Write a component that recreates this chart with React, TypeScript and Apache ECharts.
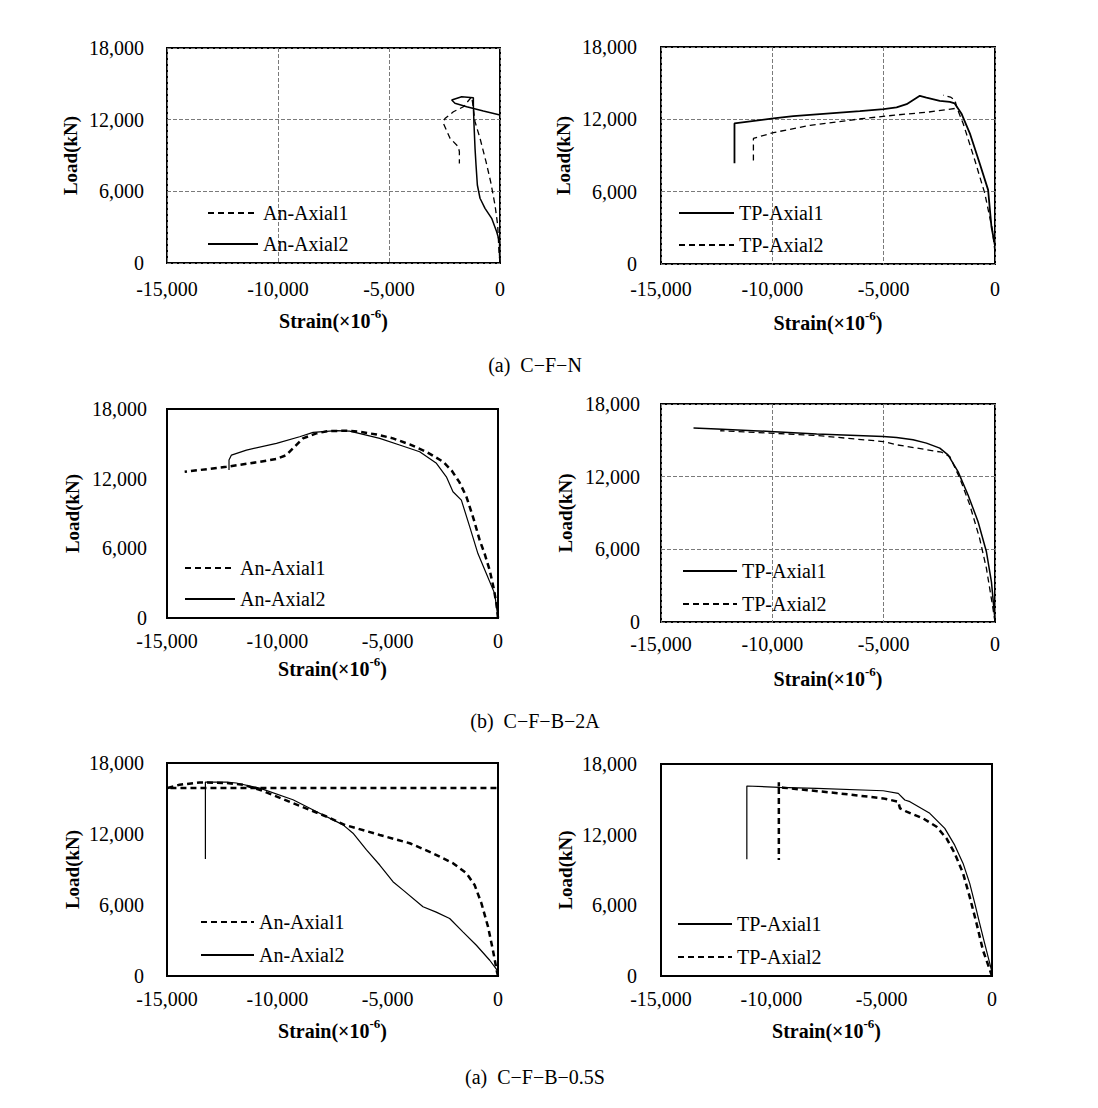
import React, { useEffect, useRef } from 'react';
import * as echarts from 'echarts';

// ---------- axis ranges / ticks ----------
const X_MIN = -15000;
const X_MAX = 0;
const X_STEP = 5000;
const Y_MIN = 0;
const Y_MAX = 18000;
const Y_STEP = 6000;

const captions = ['(a)  C\u2212F\u2212N', '(b)  C\u2212F\u2212B\u22122A', '(a)  C\u2212F\u2212B\u22120.5S'];

// ---------- (a) C-F-N : An ----------
const cfnAnAxial1: any[] = [
  [0, 0], [-45, 950], [-105, 3180], [-225, 4850], [-420, 6800], [-630, 8480], [-900, 10440],
  [-1125, 11830], [-1230, 13370], [-1275, 13920], [-1650, 13080], [-2100, 12660], [-2480, 12100],
  [-2550, 11690], [-2250, 10440], [-1880, 9740], [-1830, 9320], [-1830, 8340],
];
const cfnAnAxial2: any[] = [
  [0, 0], [-20, 670], [-20, 1780], [-150, 2620], [-375, 3740], [-675, 4580], [-900, 5420],
  [-1020, 6530], [-1080, 8200], [-1125, 9600], [-1170, 11550], [-1200, 13220], [-1200, 13840],
  [-1725, 13920], [-2175, 13640], [-2030, 13370], [-1500, 13080], [-750, 12720], [0, 12390],
];
// ---------- (a) C-F-N : TP ----------
const cfnTpAxial1: any[] = [
  [0, 1500], [-160, 3110], [-310, 6150], [-690, 8350], [-1130, 10840], [-1510, 12490],
  [-1810, 13320], [-2030, 13450], [-2480, 13530], [-3080, 13810], [-3375, 13950], [-3970, 13260],
  [-4420, 12990], [-5000, 12850], [-6070, 12680], [-9060, 12270], [-9950, 12080], [-11700, 11660],
  [-11700, 8350],
];
const cfnTpAxial2: any[] = [
  [0, 1000], [-120, 2840], [-460, 5870], [-910, 8630], [-1430, 11660], [-1700, 12900],
  [-1800, 13600], [-2000, 13850], [-2330, 14000], ['-', '-'],
  [-1810, 12900], [-3000, 12600], [-4500, 12350], [-6000, 12050], [-8300, 11500],
  [-9950, 10900], [-10850, 10420], [-10850, 8350],
];
// ---------- (b) C-F-B-2A : An ----------
const b2aAnAxial1: any[] = [
  [0, 0], [-70, 1240], [-200, 2600], [-375, 4110], [-600, 5500], [-830, 6700], [-1100, 8500],
  [-1430, 10440], [-1750, 11700], [-2100, 12700], [-2490, 13460], [-3250, 14320], [-4000, 14950],
  [-4760, 15470], [-5500, 15800], [-6270, 16040], [-6870, 16130], [-7700, 16100], [-8230, 15900],
  [-8840, 15470], [-9290, 14610], [-9590, 14030], [-10040, 13700], [-10800, 13450],
  [-12310, 13020], [-14200, 12590],
];
const b2aAnAxial2: any[] = [
  [0, 0], [-150, 2100], [-530, 3830], [-910, 5550], [-1280, 7850], [-1660, 10150], [-2040, 10870],
  [-2340, 12160], [-2790, 13320], [-3550, 14320], [-4460, 14900], [-5360, 15470], [-6720, 16100],
  [-7320, 16130], [-8380, 15990], [-8990, 15610], [-10040, 15040], [-11400, 14460],
  [-12080, 14030], [-12190, 13600], [-12190, 12740],
];
// ---------- (b) C-F-B-2A : TP ----------
const b2aTpAxial1: any[] = [
  [0, 0], [-20, 550], [-160, 3310], [-385, 5800], [-760, 8280], [-1210, 10490], [-1660, 12420],
  [-2110, 13800], [-2480, 14360], [-3080, 14770], [-3680, 15040], [-4420, 15240], [-5020, 15320],
  [-8010, 15520], [-10100, 15730], [-12490, 15930], [-13540, 16010],
];
const b2aTpAxial2: any[] = [
  [0, 0], [-90, 1110], [-385, 4420], [-690, 6900], [-1130, 9660], [-1580, 11870], [-2030, 13660],
  [-2400, 14020], [-3520, 14360], [-4420, 14630], [-5020, 14900], [-8010, 15400], [-10100, 15600],
  [-12340, 15790],
];
// ---------- (a) C-F-B-0.5S : An ----------
const b05AnAxial1: any[] = [
  [0, 0], [-45, 340], [-230, 2180], [-450, 4150], [-750, 6140], [-1060, 7690], [-1430, 8680],
  [-2040, 9530], [-2950, 10370], [-4000, 11220], [-5360, 11920], [-6950, 12770], [-7780, 13480],
  [-9290, 14610], [-10800, 15740], [-11560, 16160], [-12310, 16310], [-13520, 16360],
  [-14430, 16160], [-15000, 15880], [0, 15880],
];
const b05AnAxial2: any[] = [
  [0, 0], [-40, 500], [-375, 1330], [-980, 2600], [-1590, 3730], [-2190, 4860], [-2800, 5400],
  [-3400, 5850], [-4300, 7260], [-4760, 7970], [-5360, 9380], [-5960, 10650], [-6570, 12070],
  [-7020, 12770], [-8080, 13760], [-9290, 14890], [-10800, 15880], [-11860, 16310],
  [-12310, 16390], [-13260, 16390], [-13260, 9890],
];
// ---------- (a) C-F-B-0.5S : TP ----------
const b05TpAxial1: any[] = [
  [0, 0], [-20, 485], [-330, 2750], [-560, 4460], [-780, 6160], [-1010, 7860], [-1310, 9560],
  [-1690, 11110], [-2140, 12530], [-2820, 13810], [-3720, 14800], [-3950, 14940], [-4250, 15510],
  [-4930, 15730], [-7940, 15930], [-9660, 16020], [-11110, 16130], [-11110, 9920],
];
const b05TpAxial2: any[] = [
  [0, 0], [-410, 2190], [-700, 4460], [-1010, 6720], [-1310, 8710], [-1690, 10410],
  [-2060, 11680], [-2510, 12670], [-3120, 13380], [-3870, 13950], [-4170, 14230], [-4250, 14800],
  [-4930, 15080], [-7190, 15560], [-9450, 15990], [-9660, 16020], [-9660, 16450], [-9660, 9840],
];

const FONT = "'Liberation Serif', 'Times New Roman', serif";

type S = { name: string; data: any[]; dash: boolean; width: number };
type Panel = {
  grid: { left: number; top: number; width: number; height: number };
  split: boolean;
  yMargin: number;
  xMargin: number;
  yGap: number;
  xGap: number;
  legend: { left: number; top: number; w: number; gap: number };
  series: S[];
};

const panels: Panel[] = [
  {
    grid: { left: 167, top: 48, width: 333, height: 215 }, split: true,
    yMargin: 23, xMargin: 16, yGap: 87, xGap: 44,
    legend: { left: 207, top: 203, w: 50, gap: 11 },
    series: [
      { name: 'An-Axial1', data: cfnAnAxial1, dash: true, width: 1.3 },
      { name: 'An-Axial2', data: cfnAnAxial2, dash: false, width: 1.5 },
    ],
  },
  {
    grid: { left: 661, top: 47, width: 334, height: 217 }, split: true,
    yMargin: 24, xMargin: 15, yGap: 88, xGap: 45,
    legend: { left: 678, top: 203, w: 55, gap: 12 },
    series: [
      { name: 'TP-Axial1', data: cfnTpAxial1, dash: false, width: 1.8 },
      { name: 'TP-Axial2', data: cfnTpAxial2, dash: true, width: 1.3 },
    ],
  },
  {
    grid: { left: 167, top: 409, width: 331, height: 209 }, split: false,
    yMargin: 20, xMargin: 13, yGap: 85, xGap: 37,
    legend: { left: 184, top: 558, w: 50, gap: 11 },
    series: [
      { name: 'An-Axial1', data: b2aAnAxial1, dash: true, width: 2.5 },
      { name: 'An-Axial2', data: b2aAnAxial2, dash: false, width: 1.2 },
    ],
  },
  {
    grid: { left: 661, top: 404, width: 334, height: 218 }, split: true,
    yMargin: 21, xMargin: 12, yGap: 86, xGap: 43,
    legend: { left: 682, top: 561, w: 54, gap: 13 },
    series: [
      { name: 'TP-Axial1', data: b2aTpAxial1, dash: false, width: 1.5 },
      { name: 'TP-Axial2', data: b2aTpAxial2, dash: true, width: 1.3 },
    ],
  },
  {
    grid: { left: 167, top: 763, width: 331, height: 213 }, split: false,
    yMargin: 23, xMargin: 13, yGap: 85, xGap: 41,
    legend: { left: 200, top: 912, w: 53, gap: 13 },
    series: [
      { name: 'An-Axial1', data: b05AnAxial1, dash: true, width: 2.5 },
      { name: 'An-Axial2', data: b05AnAxial2, dash: false, width: 1.2 },
    ],
  },
  {
    grid: { left: 661, top: 764, width: 331, height: 212 }, split: false,
    yMargin: 24, xMargin: 13, yGap: 86, xGap: 41,
    legend: { left: 677, top: 914, w: 54, gap: 13 },
    series: [
      { name: 'TP-Axial1', data: b05TpAxial1, dash: false, width: 1.2 },
      { name: 'TP-Axial2', data: b05TpAxial2, dash: true, width: 2.5 },
    ],
  },
];

const captionPos = [365, 721, 1077];

const fmt = (v: number) => v.toLocaleString('en-US');

function buildOption() {
  const splitLine = (show: boolean) => ({
    show,
    lineStyle: { color: '#7a7a7a', width: 1, type: [4, 2] },
  });
  return {
    animation: false,
    backgroundColor: '#ffffff',
    grid: panels.map((p) => ({
      ...p.grid,
      show: true,
      borderColor: '#000',
      borderWidth: 2,
      backgroundColor: 'transparent',
      containLabel: false,
    })),
    xAxis: panels.map((p, i) => ({
      type: 'value',
      gridIndex: i,
      min: X_MIN,
      max: X_MAX,
      interval: X_STEP,
      axisLine: { show: false },
      axisTick: { show: false },
      splitLine: splitLine(p.split),
      axisLabel: {
        fontFamily: FONT, fontSize: 20, color: '#000', margin: p.xMargin,
        formatter: (v: number) => fmt(v),
        showMinLabel: true, showMaxLabel: true,
      },
      name: '{b|Strain(\u00d710}{s|-6}{b|)}',
      nameLocation: 'middle',
      nameGap: p.xGap,
      nameTextStyle: {
        rich: {
          b: { fontFamily: FONT, fontSize: 20, fontWeight: 'bold', color: '#000', lineHeight: 28 },
          s: { fontFamily: FONT, fontSize: 13, fontWeight: 'bold', color: '#000', verticalAlign: 'top', lineHeight: 16 },
        },
      },
    })),
    yAxis: panels.map((p, i) => ({
      type: 'value',
      gridIndex: i,
      min: Y_MIN,
      max: Y_MAX,
      interval: Y_STEP,
      axisLine: { show: false },
      axisTick: { show: false },
      splitLine: splitLine(p.split),
      axisLabel: {
        fontFamily: FONT, fontSize: 20, color: '#000', margin: p.yMargin,
        formatter: (v: number) => fmt(v),
      },
      name: 'Load(kN)',
      nameLocation: 'middle',
      nameGap: p.yGap,
      nameTextStyle: { fontFamily: FONT, fontSize: 19, fontWeight: 'bold', color: '#000' },
    })),
    legend: panels.map((p, i) => ({
      orient: 'vertical',
      left: p.legend.left,
      top: p.legend.top,
      itemWidth: p.legend.w,
      itemHeight: 14,
      itemGap: p.legend.gap,
      padding: 0,
      selectedMode: false,
      data: p.series.map((s) => s.name + '@' + i),
      formatter: (n: string) => n.split('@')[0],
      itemStyle: { color: 'rgba(0,0,0,0)', borderColor: 'rgba(0,0,0,0)', borderWidth: 0, opacity: 0 },
      textStyle: { fontFamily: FONT, fontSize: 20, color: '#000', lineHeight: 20 },
    })),
    series: panels.flatMap((p, i) =>
      p.series.map((s) => ({
        type: 'line',
        name: s.name + '@' + i,
        xAxisIndex: i,
        yAxisIndex: i,
        data: s.data,
        showSymbol: false,
        symbol: 'none',
        clip: false,
        silent: true,
        connectNulls: false,
        lineStyle: { color: '#000', width: s.width, type: s.dash ? [6, 4] : 'solid' },
        itemStyle: { color: '#000' },
      }))
    ),
    graphic: captions.map((c, i) => ({
      type: 'text',
      x: 535,
      y: captionPos[i],
      style: {
        text: c,
        align: 'center',
        verticalAlign: 'middle',
        fontFamily: FONT,
        fontSize: 20,
        fill: '#000',
      },
    })),
  };
}

export default function App() {
  const ref = useRef<HTMLDivElement>(null);
  useEffect(() => {
    document.body.style.margin = '0';
    if (!ref.current) return;
    const chart = echarts.init(ref.current, undefined, { renderer: 'svg' });
    chart.setOption(buildOption() as any);
    return () => chart.dispose();
  }, []);
  return <div ref={ref} style={{ width: 1098, height: 1108 }} />;
}
